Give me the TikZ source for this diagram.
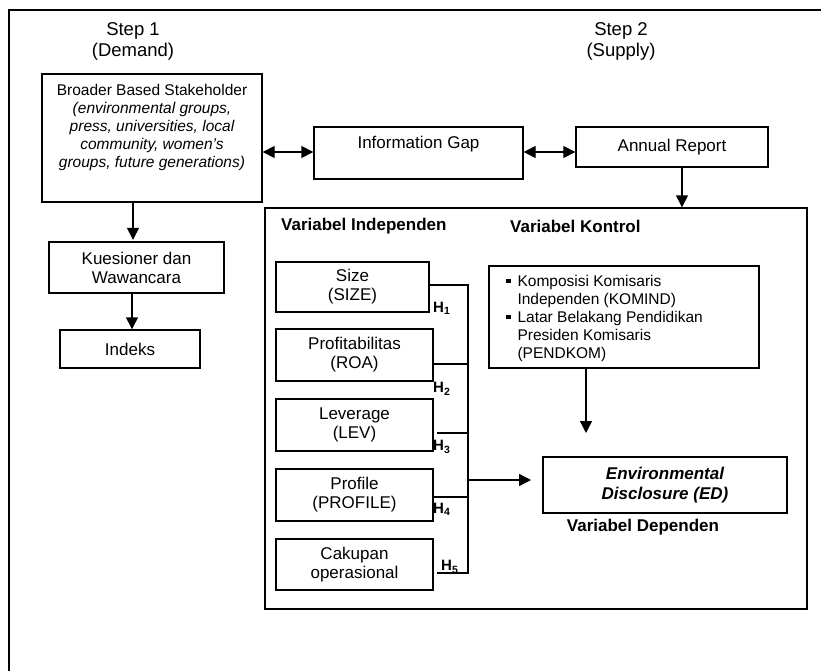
\documentclass[tikz,border=0pt]{standalone}
\usepackage{fontspec}
\setmainfont{Liberation Sans}
\usetikzlibrary{arrows.meta}
\newcommand\sqb{\rule[0.22em]{0.28em}{0.28em}}
\begin{document}
\begin{tikzpicture}[x=1pt,y=-1pt,
  box/.style={draw, line width=1.4pt, inner sep=0pt, rectangle},
  ln/.style={line width=1.4pt},
  arr/.style={line width=1.4pt, -{Triangle[length=12pt,width=12pt]}},
  dbl/.style={line width=1.4pt, {Triangle[length=12pt,width=12pt]}-{Triangle[length=12pt,width=12pt]}},
  tx/.style={font=\fontsize{17}{19}\selectfont, align=center, inner sep=0pt},
  txs/.style={font=\fontsize{15.5}{18}\selectfont, align=center, inner sep=0pt},
  stp/.style={font=\fontsize{18.5}{21}\selectfont, align=center, inner sep=0pt},
  hd/.style={font=\fontsize{17}{19}\selectfont\bfseries, inner sep=0pt},
  hl/.style={font=\fontsize{15}{17}\selectfont\bfseries, inner sep=0pt, anchor=west},
]
\useasboundingbox (0,0) rectangle (821,671);
% outer frame
\draw[line width=1.8pt] (840,10) -- (9,10) -- (9,690);

% step labels
\node[stp] (s1) at (133,41) {Step 1\\(Demand)};
\node[stp] (s2) at (621,41) {Step 2\\(Supply)};

% left column
\node[box, minimum width=220pt, minimum height=128pt] (sh) at (152,138) {};
\node[txs] (sht) at (152,127) {Broader Based Stakeholder\\ \itshape (environmental groups,\\ \itshape press, universities, local\\ \itshape community, women’s\\ \itshape groups, future generations)};
\node[box, tx, minimum width=175pt, minimum height=51pt] (kue) at (136.5,267.5) {Kuesioner dan\\Wawancara};
\node[box, tx, minimum width=140pt, minimum height=38pt] (idx) at (130,349) {Indeks};

% top row
\node[box, minimum width=209pt, minimum height=52pt] (ig) at (418.5,153) {};
\node[tx] (igt) at (418.5,144) {Information Gap};
\node[box, tx, minimum width=192pt, minimum height=40pt] (ar) at (672,147) {Annual Report};

% big box
\node[box, minimum width=542pt, minimum height=401pt] (big) at (536,408.5) {};
\node[hd, anchor=west] (vi) at (281,226) {Variabel Independen};
\node[hd, anchor=west] (vk) at (510,226) {Variabel Kontrol};

% independent variables
\node[box, tx, minimum width=153pt, minimum height=50pt] (size) at (352.5,287) {Size\\(SIZE)};
\node[box, tx, minimum width=157pt, minimum height=52pt] (prof) at (354.5,355) {Profitabilitas\\(ROA)};
\node[box, tx, minimum width=157pt, minimum height=52pt] (lev) at (354.5,425) {Leverage\\(LEV)};
\node[box, tx, minimum width=157pt, minimum height=52pt] (pro) at (354.5,495) {Profile\\(PROFILE)};
\node[box, tx, minimum width=157pt, minimum height=51pt] (cak) at (354.5,564.5) {Cakupan\\operasional};

% control box
\node[box, minimum width=270pt, minimum height=102pt] (ctrl) at (624,317) {};
\node[txs, anchor=west, align=left] (ctrlt) at (506,319) {%
\begin{tabular}{@{}l@{\hspace{7pt}}l@{}}
\sqb & Komposisi Komisaris\\
 & Independen (KOMIND)\\
\sqb & Latar Belakang Pendidikan\\
 & Presiden Komisaris\\
 & (PENDKOM)
\end{tabular}};

% dependent
\node[box, minimum width=244pt, minimum height=56pt, font=\fontsize{17}{20}\selectfont\bfseries\itshape, align=center, inner sep=0pt] (ed) at (665,485) {Environmental\\Disclosure (ED)};
\node[hd] (vd) at (643,527) {Variabel Dependen};

% H labels
\node[hl] (h1) at (433,308) {H\textsubscript{1}};
\node[hl] (h2) at (433,389) {H\textsubscript{2}};
\node[hl] (h3) at (433,447) {H\textsubscript{3}};
\node[hl] (h4) at (433,509) {H\textsubscript{4}};
\node[hl] (h5) at (441,567) {H\textsubscript{5}};

% coordinates
\coordinate (dy) at (0,152);
\coordinate (kx) at (133,0);
\coordinate (ix) at (132,0);
\coordinate (arx) at (682,0);
\coordinate (ca) at (586,433);
\coordinate (b1) at (468,285);
\coordinate (b2) at (468,364);
\coordinate (b3) at (468,433);
\coordinate (b4) at (468,497);
\coordinate (b5) at (468,573);
\coordinate (bm) at (468,480);
\coordinate (at) at (531,480);

% connectors
\draw[dbl] (sh.east |- dy) -- (ig.west |- dy);
\draw[dbl] (ig.east |- dy) -- (ar.west |- dy);
\draw[arr] (sh.south -| kx) -- ([yshift=1.5pt]kx |- kue.north);
\draw[arr] (kue.south -| ix) -- (ix |- idx.north);
\draw[arr] (ar.south -| arx) -- (arx |- big.north);
\draw[arr] (ctrl.south -| ca) -- (ca);

\draw[ln] (size.east |- b1) -- (b1) -- (b5) -- ([xshift=3pt]cak.east |- b5);
\draw[ln] (prof.east |- b2) -- (b2);
\draw[ln] ([xshift=3pt]lev.east |- b3) -- (b3);
\draw[ln] (pro.east |- b4) -- (b4);
\draw[arr] (bm) -- (at);
\end{tikzpicture}
\end{document}
